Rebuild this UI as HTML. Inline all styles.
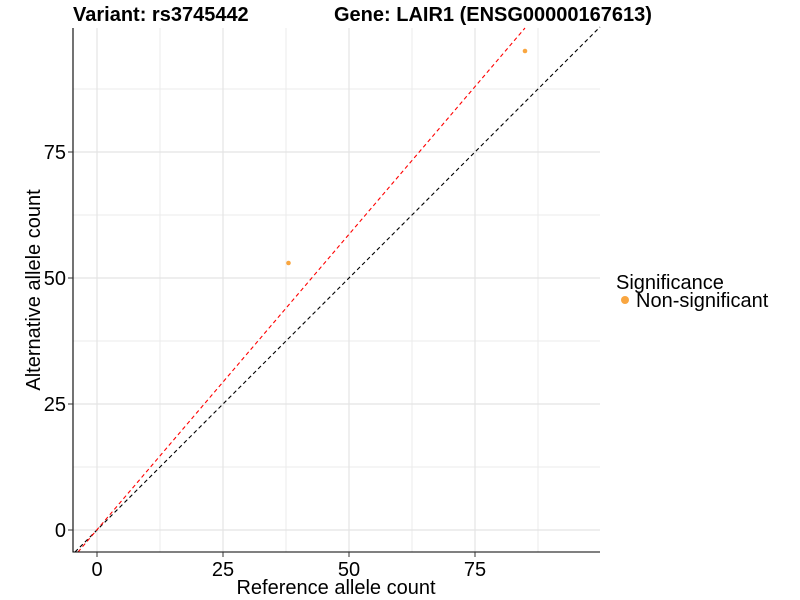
<!DOCTYPE html>
<html><head><meta charset="utf-8"><style>body{margin:0;background:#fff}svg{display:block}</style></head><body>
<svg width="800" height="600" xmlns="http://www.w3.org/2000/svg" font-family="Liberation Sans, Arial, sans-serif">
<g stroke="#ebebeb" stroke-width="1">
<line x1="160" y1="28" x2="160" y2="552"/><line x1="286" y1="28" x2="286" y2="552"/><line x1="412" y1="28" x2="412" y2="552"/><line x1="538" y1="28" x2="538" y2="552"/>
<line x1="73" y1="467" x2="600" y2="467"/><line x1="73" y1="341" x2="600" y2="341"/><line x1="73" y1="215" x2="600" y2="215"/><line x1="73" y1="89" x2="600" y2="89"/>
</g>
<g stroke="#e4e4e4" stroke-width="1.2">
<line x1="97" y1="28" x2="97" y2="552"/><line x1="223" y1="28" x2="223" y2="552"/><line x1="349" y1="28" x2="349" y2="552"/><line x1="475" y1="28" x2="475" y2="552"/>
<line x1="73" y1="530" x2="600" y2="530"/><line x1="73" y1="404" x2="600" y2="404"/><line x1="73" y1="278" x2="600" y2="278"/><line x1="73" y1="152" x2="600" y2="152"/>
</g>
<line x1="75" y1="552" x2="600" y2="27" stroke="#000" stroke-width="1.1" stroke-dasharray="4,3"/>
<line x1="78" y1="552" x2="525" y2="28" stroke="#ff0000" stroke-width="1.1" stroke-dasharray="4,3"/>
<circle cx="288.5" cy="263" r="2.3" fill="#f9a640"/>
<circle cx="525" cy="51" r="2.3" fill="#f9a640"/>
<line x1="73" y1="28" x2="73" y2="552.5" stroke="#000" stroke-width="1.1"/>
<line x1="72.5" y1="552" x2="600" y2="552" stroke="#000" stroke-width="1.1"/>
<g stroke="#333"><line x1="68" y1="530" x2="73" y2="530"/><line x1="68" y1="404" x2="73" y2="404"/><line x1="68" y1="278" x2="73" y2="278"/><line x1="68" y1="152" x2="73" y2="152"/>
<line x1="97" y1="552" x2="97" y2="557"/><line x1="223" y1="552" x2="223" y2="557"/><line x1="349" y1="552" x2="349" y2="557"/><line x1="475" y1="552" x2="475" y2="557"/></g>
<g font-size="20" fill="#000" text-anchor="end"><text x="66" y="537">0</text><text x="66" y="411">25</text><text x="66" y="285">50</text><text x="66" y="159">75</text></g>
<g font-size="20" fill="#000" text-anchor="middle"><text x="97" y="576">0</text><text x="223" y="576">25</text><text x="349" y="576">50</text><text x="475" y="576">75</text>
<text x="336" y="594">Reference allele count</text>
<text transform="translate(40,290) rotate(-90)">Alternative allele count</text></g>
<g font-size="20" font-weight="bold"><text x="73" y="21">Variant: rs3745442</text><text x="334" y="21">Gene: LAIR1 (ENSG00000167613)</text></g>
<text x="616" y="289" font-size="20">Significance</text>
<circle cx="625" cy="300" r="4" fill="#f9a640"/>
<text x="636" y="307" font-size="20">Non-significant</text>
</svg>
</body></html>
